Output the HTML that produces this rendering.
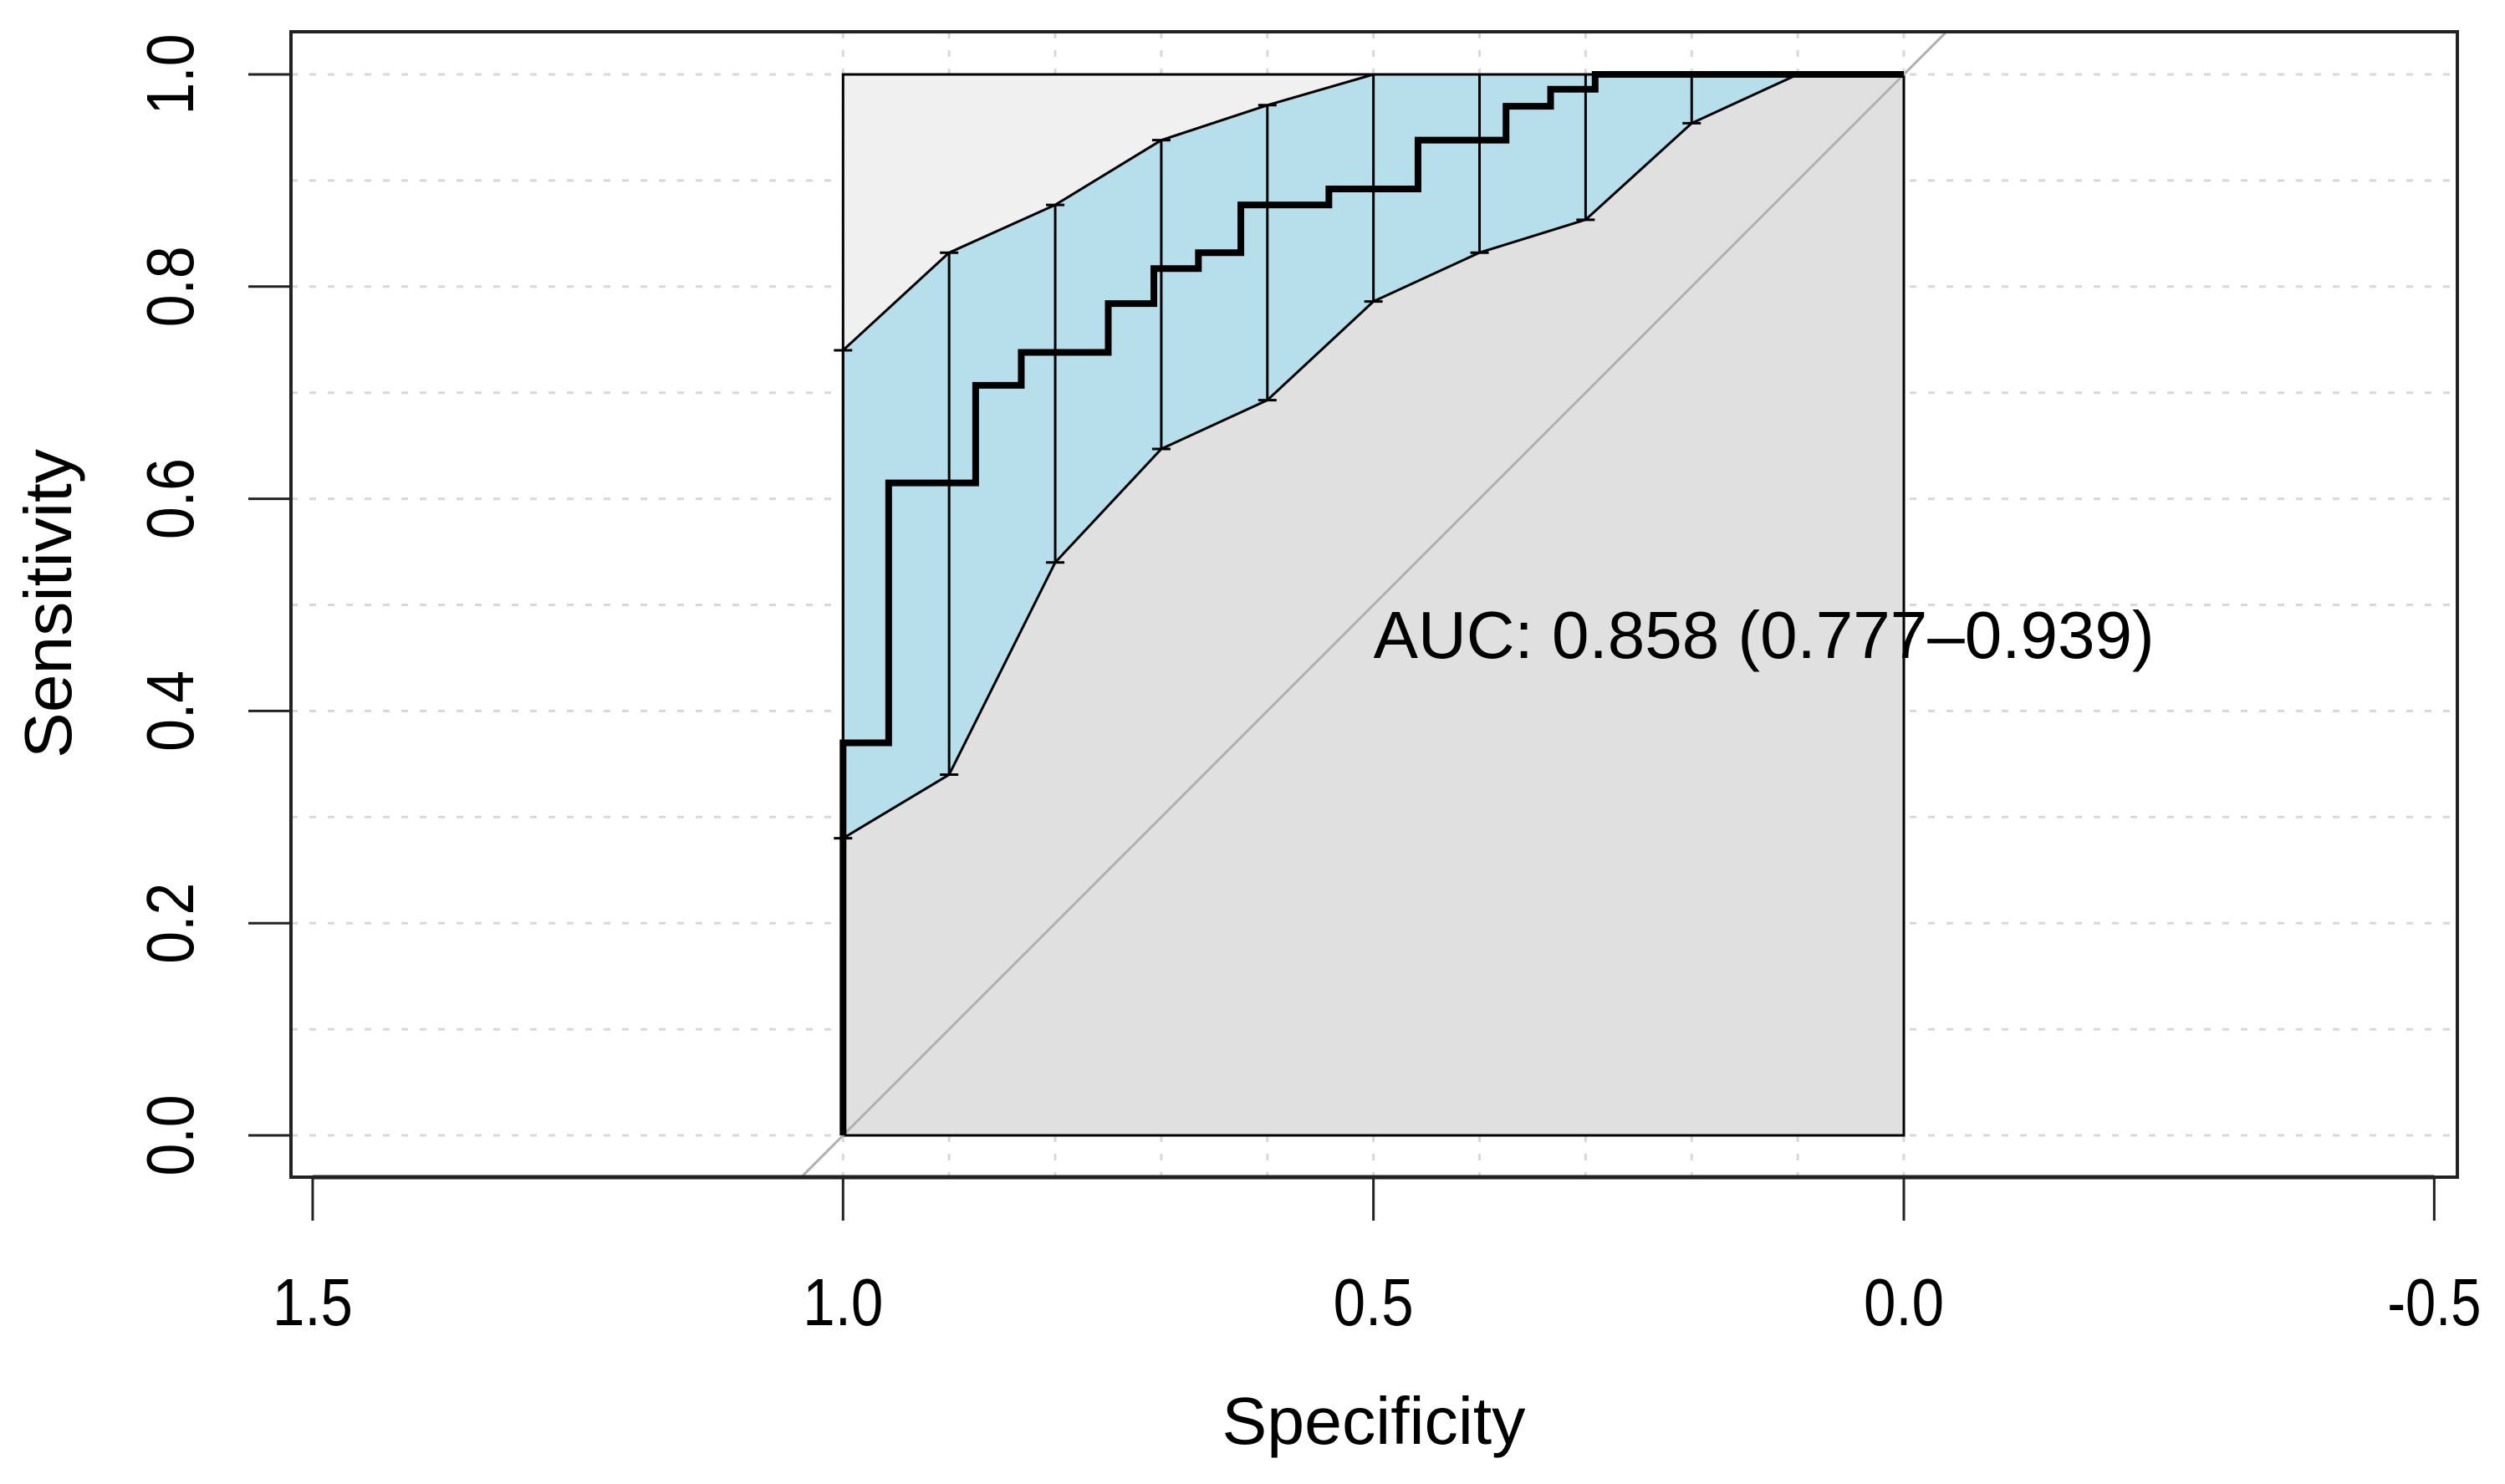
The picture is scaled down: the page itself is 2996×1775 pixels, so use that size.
<!DOCTYPE html>
<html><head><meta charset="utf-8"><style>
html,body{margin:0;padding:0;background:#fff;}
svg text{font-family:"Liberation Sans",Arial,sans-serif;fill:#000;}
</style></head><body>
<svg id="chart" width="2996" height="1770" viewBox="0 0 2996 1770" xmlns="http://www.w3.org/2000/svg">
<defs><clipPath id="boxclip"><rect x="348" y="38" width="2591" height="1370"/></clipPath></defs>
<g id="grid"></g>
<g id="inner"></g>
<g id="axes"></g>
</svg>
<script>
const specSteps = [1.0, 1.0, 0.957, 0.957, 0.875, 0.875, 0.832, 0.832, 0.750, 0.750, 0.707, 0.707, 0.665, 0.665, 0.625, 0.625, 0.542, 0.542, 0.458, 0.458, 0.375, 0.375, 0.333, 0.333, 0.291, 0.291, 0.0];
const sensSteps = [0.0, 0.370, 0.370, 0.615, 0.615, 0.707, 0.707, 0.738, 0.738, 0.784, 0.784, 0.817, 0.817, 0.832, 0.832, 0.877, 0.877, 0.892, 0.892, 0.938, 0.938, 0.970, 0.970, 0.986, 0.986, 1.0, 1.0];
const ciSpec = [1.0, 0.9, 0.8, 0.7, 0.6, 0.5, 0.4, 0.3, 0.2, 0.1, 0.0];
const ciLower = [0.280, 0.340, 0.540, 0.647, 0.693, 0.786, 0.832, 0.863, 0.954, 1.0, 1.0];
const ciUpper = [0.740, 0.832, 0.877, 0.938, 0.971, 1.0, 1.0, 1.0, 1.0, 1.0, 1.0];
const xTicks = [1.5, 1.0, 0.5, 0.0, -0.5];
const xTickLabels = ["1.5", "1.0", "0.5", "0.0", "-0.5"];
const yTicks = [0.0, 0.2, 0.4, 0.6, 0.8, 1.0];
const yTickLabels = ["0.0", "0.2", "0.4", "0.6", "0.8", "1.0"];
const aucLabel = "AUC: 0.858 (0.777\u20130.939)";

const NS = "http://www.w3.org/2000/svg";
function X(v){ return 2277 - 1268.7 * v; }
function Y(v){ return 1358 - 1269 * v; }
function mk(parent, tag, attrs){
  const e = document.createElementNS(NS, tag);
  for (const k in attrs) e.setAttribute(k, attrs[k]);
  parent.appendChild(e); return e;
}
const grid = document.getElementById('grid');
const inner = document.getElementById('inner');
const axes = document.getElementById('axes');

// grid
for (let i = 0; i <= 10; i++) {
  const v = i / 10;
  const h = mk(grid, 'line', {x1:348, x2:2939, y1:Y(v), y2:Y(v), stroke:'#d8d8d8', 'stroke-width':3, 'stroke-dasharray':'8 14'});
  
  
  const g = mk(grid, 'line', {x1:X(v), x2:X(v), y1:38, y2:1408, stroke:'#d8d8d8', 'stroke-width':3, 'stroke-dasharray':'8 14'});
  
  
}

// inner rect
const bg = mk(inner, 'rect', {x:X(1), y:Y(1), width:X(0)-X(1), height:Y(0)-Y(1), fill:'#f0f0f0'});



// lower grey area
let lp = `${X(1)},${Y(0)} `;
for (let i = 0; i < ciSpec.length; i++) lp += `${X(ciSpec[i])},${Y(ciLower[i])} `;
lp += `${X(0)},${Y(0)}`;
const low = mk(inner, 'polygon', {points:lp, fill:'#e0e0e0'});



// CI band
let bp = '';
for (let i = 0; i < ciSpec.length; i++) bp += `${X(ciSpec[i])},${Y(ciUpper[i])} `;
for (let i = ciSpec.length - 1; i >= 0; i--) bp += `${X(ciSpec[i])},${Y(ciLower[i])} `;
const band = mk(inner, 'polygon', {points:bp.trim(), fill:'#b7dfeb'});


let up = '', lo = '';
for (let i = 0; i < ciSpec.length; i++) { up += `${X(ciSpec[i])},${Y(ciUpper[i])} `; lo += `${X(ciSpec[i])},${Y(ciLower[i])} `; }
const upl = mk(inner, 'polyline', {points:up.trim(), fill:'none', stroke:'#000', 'stroke-width':3});


const lol = mk(inner, 'polyline', {points:lo.trim(), fill:'none', stroke:'#000', 'stroke-width':3});



// inner border
const br = mk(inner, 'rect', {x:X(1), y:Y(1), width:X(0)-X(1), height:Y(0)-Y(1), fill:'none', stroke:'#000', 'stroke-width':3});



// diagonal
const dg = mk(inner, 'line', {x1:X(1.04), y1:Y(-0.04), x2:X(-0.04), y2:Y(1.04), stroke:'#b0b0b0', 'stroke-width':3, 'clip-path':'url(#boxclip)'});



// error bars
for (let i = 0; i < ciSpec.length; i++) {
  if (ciUpper[i] - ciLower[i] < 0.005) continue;
  const x = X(ciSpec[i]);
  const eb = mk(inner, 'path', {d:`M${x},${Y(ciUpper[i])}V${Y(ciLower[i])}M${x-11},${Y(ciUpper[i])}h22M${x-11},${Y(ciLower[i])}h22`, stroke:'#000', 'stroke-width':3, fill:'none'});
  
  
}

// ROC curve
let rp = '';
for (let i = 0; i < specSteps.length; i++) rp += `${X(specSteps[i])},${Y(sensSteps[i])} `;
const roc = mk(inner, 'polyline', {points:rp.trim(), fill:'none', stroke:'#000', 'stroke-width':8, 'stroke-linejoin':'miter'});



// AUC text
const at = mk(inner, 'text', {x:X(0.5), y:787, 'font-size':80});
at.textContent = aucLabel;



// outer box
const ob = mk(axes, 'rect', {x:348, y:38, width:2591, height:1370, fill:'none', stroke:'#222', 'stroke-width':4});



// x axis
const xl = mk(axes, 'line', {x1:X(1.5), x2:X(-0.5), y1:1408, y2:1408, stroke:'#222', 'stroke-width':5});


for (let i = 0; i < xTicks.length; i++) {
  const x = X(xTicks[i]);
  const t = mk(axes, 'line', {x1:x, x2:x, y1:1408, y2:1460, stroke:'#222', 'stroke-width':3});
  
  
  const lb = mk(axes, 'text', {x:x, y:1585, 'font-size':80, 'text-anchor':'middle', textLength: xTickLabels[i].length > 3 ? 112 : 96, lengthAdjust:'spacingAndGlyphs'});
  lb.textContent = xTickLabels[i];
  
  
}
const xt = mk(axes, 'text', {x:1643, y:1727, 'font-size':80, 'text-anchor':'middle', textLength:363, lengthAdjust:'spacingAndGlyphs'});
xt.textContent = 'Specificity';



// y axis
for (let i = 0; i < yTicks.length; i++) {
  const y = Y(yTicks[i]);
  const t = mk(axes, 'line', {x1:297, x2:348, y1:y, y2:y, stroke:'#222', 'stroke-width':3});
  
  
  const lb = mk(axes, 'text', {x:0, y:0, 'font-size':80, 'text-anchor':'middle', textLength:97, lengthAdjust:'spacingAndGlyphs', transform:`translate(231,${y}) rotate(-90)`});
  lb.textContent = yTickLabels[i];
  
  
}
const yt = mk(axes, 'text', {x:0, y:0, 'font-size':80, 'text-anchor':'middle', textLength:370, lengthAdjust:'spacingAndGlyphs', transform:'translate(85,722) rotate(-90)'});
yt.textContent = 'Sensitivity';


</script>
</body></html>
